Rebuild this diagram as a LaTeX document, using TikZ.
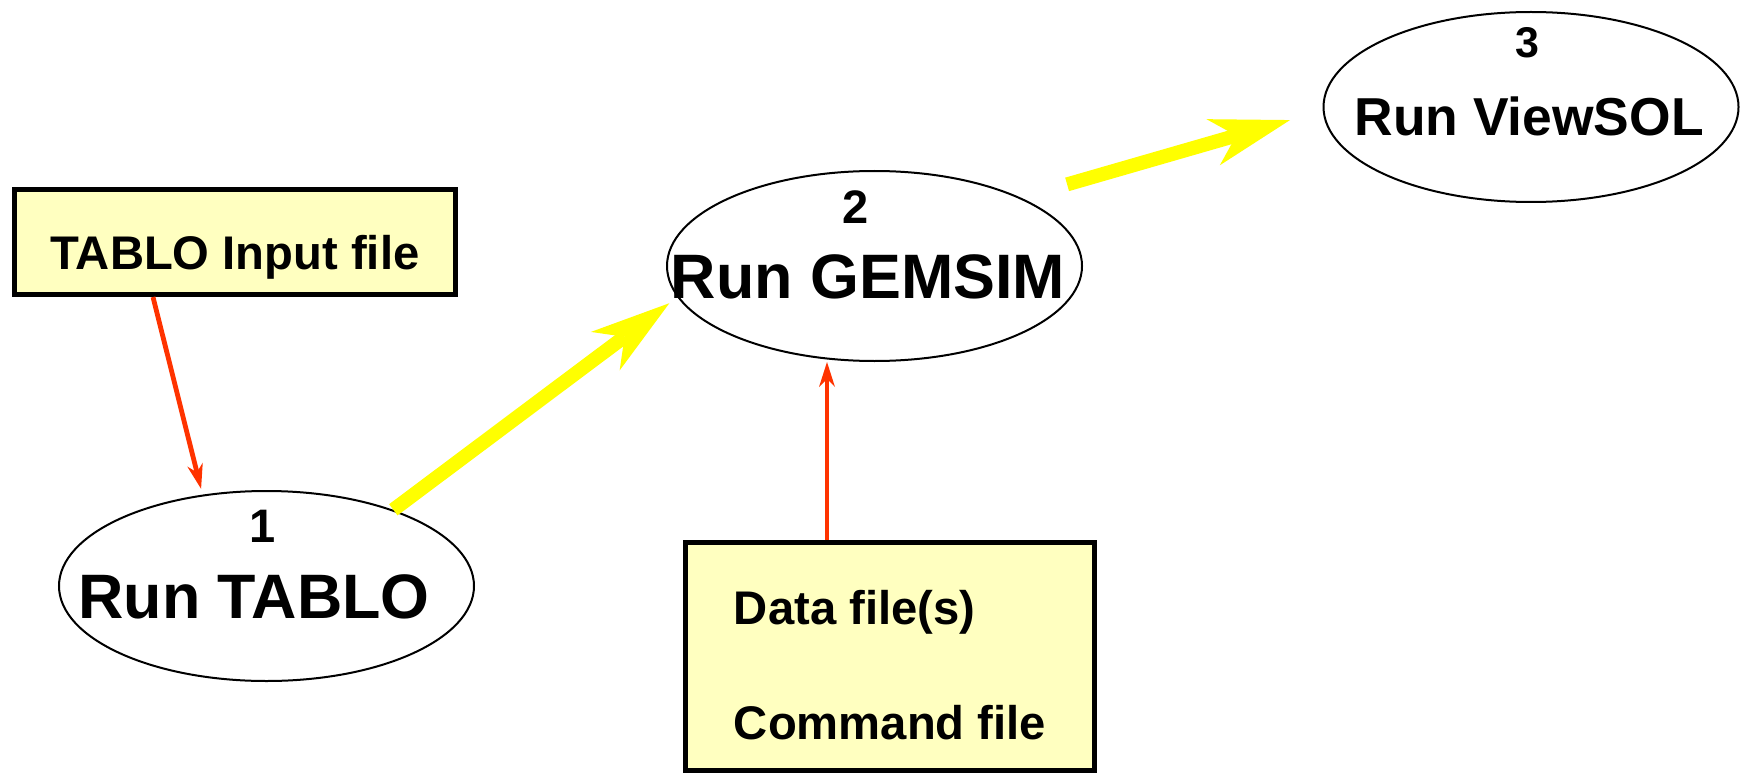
\documentclass[tikz,border=0pt]{standalone}
\usepackage{fontspec}
\setmainfont{Liberation Sans}
\usetikzlibrary{arrows.meta,positioning,shapes}
\definecolor{notebg}{RGB}{255,255,192}
\definecolor{feedred}{RGB}{255,51,0}
\definecolor{flowyel}{RGB}{255,255,0}
\tikzset{
    %Define standard arrow tip
    >={Stealth[length=12.5pt,width=8pt,inset=4pt,line width=0pt]},
    %Define style for file boxes
    filebox/.style={
           rectangle,
           draw=black, line width=2.5pt,
           fill=notebg,
           font=\bfseries\fontsize{23.6pt}{28pt}\selectfont},
    %Define style for program ellipses
    prog/.style={
           ellipse,
           draw=black, line width=1pt,
           minimum width=207.5pt,
           minimum height=95pt,
           inner sep=0pt},
    progname/.style={
           anchor=base,
           inner sep=0pt,
           font=\bfseries\fontsize{31.4pt}{36pt}\selectfont},
    stepno/.style={
           anchor=base,
           inner sep=0pt,
           font=\bfseries\fontsize{23.5pt}{28pt}\selectfont},
    % Define arrow styles
    redarr/.style={
           ->,
           line width=2.4pt,
           draw=feedred},
    yelarr/.style={
           -{Stealth[length=40pt,width=24pt,inset=12pt,line width=0pt]},
           line width=7pt,
           draw=flowyel}
}

\begin{document}
\begin{tikzpicture}
  \useasboundingbox (0,0) rectangle (871.5pt,-387.5pt);
  \begin{scope}
  \node[filebox, minimum width=220.5pt, minimum height=52.5pt,
        text height=28pt, text depth=0pt] (tablo-in) at (117.5pt,-121pt) {TABLO Input file};
  \node[prog, on grid, below right=172pt and 15.75pt of tablo-in] (run-tablo) {};
  \node[prog, on grid, above right=160pt and 304pt of run-tablo] (run-gemsim) {};
  \node[prog, on grid, above right=79.5pt and 328.25pt of run-gemsim] (run-viewsol) {};
  \node[filebox, align=left, minimum width=204.5pt, minimum height=114pt,
        font=\bfseries\fontsize{23.6pt}{57.5pt}\selectfont,
        on grid, below right=195.25pt and 7.75pt of run-gemsim] (data-cmd)
        {\rule{0pt}{25.5pt}Data file(s)\\Command file};
  % step numbers and program names
  \node[stepno] (tablo-no) at ([xshift=-1.75pt,yshift=22pt]run-tablo.center) {1};
  \node[progname] (tablo-name) at ([xshift=-6.25pt,yshift=-16pt]run-tablo.center) {Run TABLO};
  \node[stepno] (gemsim-no) at ([xshift=-9.25pt,yshift=21.5pt]run-gemsim.center) {2};
  \node[progname] (gemsim-name) at ([xshift=-3.25pt,yshift=-16pt]run-gemsim.center) {Run GEMSIM};
  \node[stepno, font=\bfseries\fontsize{21.5pt}{26pt}\selectfont]
    (viewsol-no) at ([xshift=-2pt,yshift=24.5pt]run-viewsol.center) {3};
  \node[progname, font=\bfseries\fontsize{26.7pt}{32pt}\selectfont]
    (viewsol-name) at ([xshift=-1pt,yshift=-14.5pt]run-viewsol.center) {Run ViewSOL};
  % connectors
  \draw[redarr, shorten >=3pt] ([xshift=-41pt]tablo-in.south) -- (run-tablo.125);
  \draw[redarr] ([xshift=-31.5pt]data-cmd.north)
    -- ([xshift=-31.5pt]data-cmd.north |- run-gemsim.south);
  \draw[yelarr, shorten >=5pt] (run-tablo.31) -- (run-gemsim.189);
  \draw[yelarr, shorten <=24pt, shorten >=17pt] (run-gemsim.25) -- (run-viewsol.181);
  \end{scope}
\end{tikzpicture}
\end{document}
